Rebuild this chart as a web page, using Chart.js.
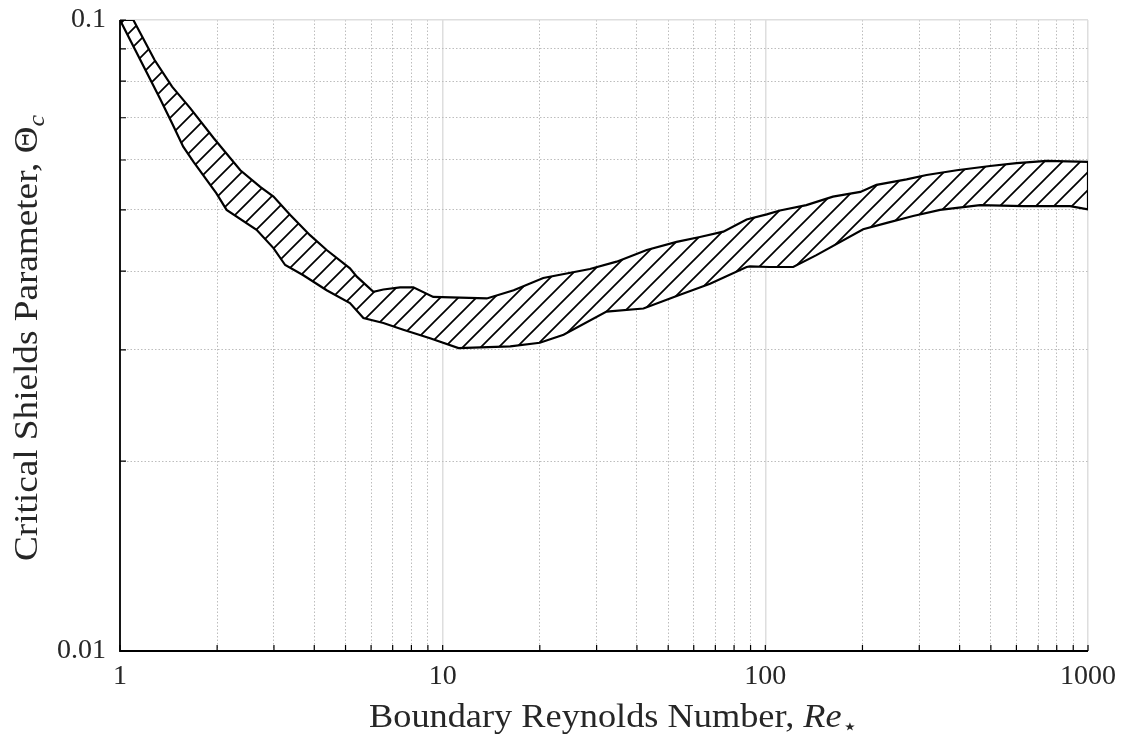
<!DOCTYPE html>
<html>
<head>
<meta charset="utf-8">
<script src="https://cdn.jsdelivr.net/npm/chart.js@4/dist/chart.umd.min.js"></script>
<style>
  html, body { margin: 0; padding: 0; background: #fff; }
  #wrap { width: 1130px; height: 738px; position: relative; }
</style>
</head>
<body>
<div id="wrap"><canvas id="c" width="1130" height="738"></canvas></div>
<script>
// ---- data ----
const reUpper = [1, 1.1, 1.28, 1.45, 1.65, 1.95, 2.36, 2.72, 2.99, 3.37, 3.88, 4.37, 5.16, 5.42, 6.10, 6.55, 7.38, 8.11, 9.35, 13.7, 16.6, 20.5, 28.6, 34.6, 42.9, 53.1, 62.7, 74.1, 87.5, 101, 111, 134, 162, 197, 221, 274, 316, 392, 497, 601, 745, 1000];
const thetaUpper = [0.1, 0.1, 0.0864, 0.0784, 0.0725, 0.0650, 0.0578, 0.0544, 0.0525, 0.0491, 0.0456, 0.0432, 0.0404, 0.0392, 0.0371, 0.0374, 0.0377, 0.0377, 0.0364, 0.0362, 0.0373, 0.0390, 0.0403, 0.0414, 0.0432, 0.0445, 0.0453, 0.0462, 0.0483, 0.0492, 0.0499, 0.0509, 0.0525, 0.0534, 0.0548, 0.0559, 0.0568, 0.0578, 0.0587, 0.0593, 0.0598, 0.0596];
const reLower = [1, 1.33, 1.45, 1.57, 1.69, 1.99, 2.14, 2.65, 2.99, 3.25, 3.70, 4.37, 5.16, 5.68, 6.55, 7.55, 9.14, 11.2, 16.2, 20.0, 23.7, 32.2, 41.9, 54.4, 67.4, 87.5, 89.6, 103, 122, 144, 201, 238, 287, 348, 463, 630, 880, 1000];
const thetaLower = [0.1, 0.0751, 0.0686, 0.0630, 0.0596, 0.0531, 0.0500, 0.0465, 0.0435, 0.0409, 0.0394, 0.0373, 0.0356, 0.0337, 0.0331, 0.0323, 0.0313, 0.0302, 0.0304, 0.0308, 0.0317, 0.0345, 0.0349, 0.0367, 0.0382, 0.0406, 0.0407, 0.0406, 0.0406, 0.0424, 0.0466, 0.0477, 0.0489, 0.0500, 0.0509, 0.0507, 0.0507, 0.0501];

const xTickLabels = ['1', '10', '100', '1000'];
const yTickLabels = ['0.01', '0.1'];
const xTitleText = 'Boundary Reynolds Number, ';
const xTitleSymbol = 'Re';
const xTitleSub = '\u22C6';
const yTitleText = 'Critical Shields Parameter, ';
const yTitleSymbol = '\u0398';
const yTitleSub = 'c';

// decade tick positions for log axes (grid lines)
function decadeTicks(lo, hi) {
  const out = [];
  for (let e = Math.round(Math.log10(lo)); e < Math.round(Math.log10(hi)); e++) {
    for (let m = 1; m <= 9; m++) out.push(+(m * Math.pow(10, e)).toPrecision(6));
  }
  out.push(hi);
  return out;
}
const isMajor = v => Math.abs(Math.log10(v) - Math.round(Math.log10(v))) < 1e-6;

// polygon: upper curve left->right, lower curve right->left
const bandPoints = reUpper.map((x, i) => ({x, y: thetaUpper[i]}))
  .concat(reLower.map((x, i) => ({x, y: thetaLower[i]})).reverse());

// hatch pattern
function hatchPattern() {
  const s = 18;
  const c = document.createElement('canvas');
  c.width = s; c.height = s;
  const g = c.getContext('2d');
  g.fillStyle = '#ffffff';
  g.fillRect(0, 0, s, s);
  g.strokeStyle = '#000000';
  g.lineWidth = 1.7;
  g.beginPath();
  g.moveTo(-2, s + 2); g.lineTo(s + 2, -2);
  g.moveTo(-2, 2); g.lineTo(2, -2);
  g.moveTo(s - 2, s + 2); g.lineTo(s + 2, s - 2);
  g.stroke();
  return g.createPattern(c, 'repeat');
}

const FONT = '"Liberation Serif", "DejaVu Serif", serif';
const TEXT_COLOR = '#262626';

function drawRich(ctx, parts, size, targetWidth) {
  const fonts = parts.map(p => (p.italic ? 'italic ' : '') + Math.round(p.sub ? size * 0.7 : size) + 'px ' + FONT);
  let w = 0;
  const widths = parts.map((p, i) => { ctx.font = fonts[i]; const m = ctx.measureText(p.t).width; w += m; return m; });
  const sx = targetWidth / w;
  ctx.save();
  ctx.scale(sx, 1);
  let x = -w / 2;
  parts.forEach((p, i) => {
    ctx.font = fonts[i];
    ctx.fillText(p.t, x, p.sub ? size * 0.2 : 0);
    x += widths[i];
  });
  ctx.restore();
}

const decor = {
  id: 'decor',
  afterDraw(chart) {
    const {ctx, chartArea: {left, right, top, bottom}, scales: {x, y}} = chart;
    ctx.save();
    ctx.strokeStyle = '#000';
    ctx.lineWidth = 1.2;
    ctx.beginPath();
    x.ticks.forEach(t => { const px = x.getPixelForValue(t.value); ctx.moveTo(px, bottom); ctx.lineTo(px, bottom - 6); });
    y.ticks.forEach(t => { const py = y.getPixelForValue(t.value); ctx.moveTo(left, py); ctx.lineTo(left + 6, py); });
    ctx.stroke();
    ctx.lineWidth = 1.8;
    ctx.beginPath();
    ctx.moveTo(left, top); ctx.lineTo(left, bottom); ctx.lineTo(right, bottom);
    ctx.stroke();

    ctx.fillStyle = TEXT_COLOR;
    ctx.textBaseline = 'alphabetic';
    ctx.textAlign = 'left';
    ctx.save();
    ctx.translate(613, 727);
    drawRich(ctx, [{t: xTitleText}, {t: xTitleSymbol, italic: true}, {t: xTitleSub, sub: true}], 33, 488);
    ctx.restore();
    ctx.save();
    ctx.translate(37, 338);
    ctx.rotate(-Math.PI / 2);
    drawRich(ctx, [{t: yTitleText}, {t: yTitleSymbol}, {t: yTitleSub, italic: true, sub: true}], 33, 446);
    ctx.restore();
    ctx.restore();
  }
};

const gridOpts = {
  drawTicks: false,
  color: c => (c.tick && isMajor(c.tick.value)) ? '#dedede' : '#bdbdbd',
  lineWidth: c => (c.tick && isMajor(c.tick.value)) ? 1.5 : 1,
  borderDash: c => (c.tick && !isMajor(c.tick.value)) ? [1.5, 2] : []
};
const borderOpts = {
  display: false,
  dash: c => (c.tick && !isMajor(c.tick.value)) ? [1.5, 2] : []
};

new Chart(document.getElementById('c'), {
  type: 'scatter',
  data: {
    datasets: [{
      data: bandPoints,
      showLine: true,
      fill: 'shape',
      backgroundColor: hatchPattern(),
      borderColor: '#000',
      borderWidth: 2.2,
      pointRadius: 0,
      pointHoverRadius: 0,
      tension: 0
    }]
  },
  options: {
    responsive: false,
    animation: false,
    events: [],
    layout: { padding: { top: 20, right: 42, left: 0, bottom: 0 } },
    plugins: { legend: { display: false }, tooltip: { enabled: false } },
    scales: {
      x: {
        type: 'logarithmic',
        min: 1, max: 1000,
        afterBuildTicks: s => { s.ticks = decadeTicks(1, 1000).map(v => ({value: v, major: isMajor(v)})); },
        afterFit: s => { s.height = 87; s.paddingLeft = 0; s.paddingRight = 0; },
        grid: gridOpts,
        border: borderOpts,
        ticks: {
          autoSkip: false, maxRotation: 0, padding: 9,
          color: TEXT_COLOR,
          font: { family: FONT, size: 28 },
          callback: v => isMajor(v) ? xTickLabels[Math.round(Math.log10(v))] : ''
        }
      },
      y: {
        type: 'logarithmic',
        min: 0.01, max: 0.1,
        afterBuildTicks: s => { s.ticks = decadeTicks(0.01, 0.1).map(v => ({value: v, major: isMajor(v)})); },
        afterFit: s => { s.width = 120; s.paddingTop = 0; s.paddingBottom = 0; },
        grid: gridOpts,
        border: borderOpts,
        ticks: {
          autoSkip: false, padding: 14,
          color: TEXT_COLOR,
          font: { family: FONT, size: 28 },
          callback: v => isMajor(v) ? yTickLabels[Math.round(Math.log10(v)) + 2] : ''
        }
      }
    }
  },
  plugins: [decor]
});
</script>
</body>
</html>
